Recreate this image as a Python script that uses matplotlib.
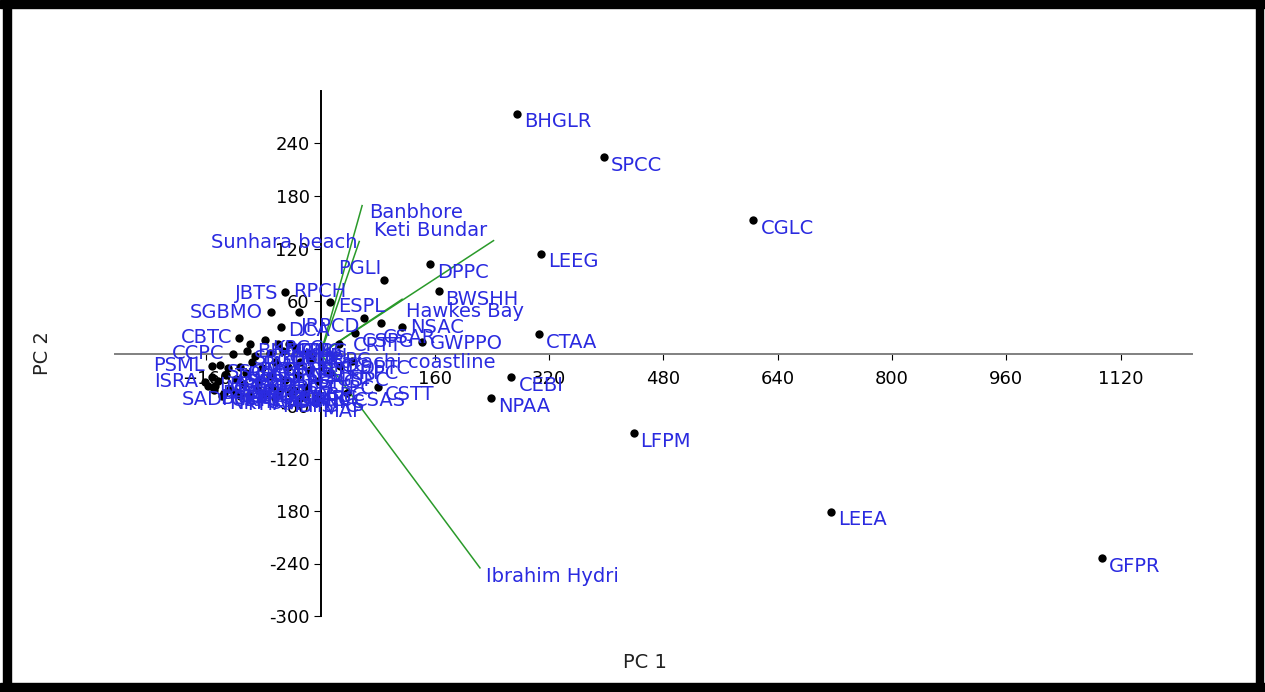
import matplotlib.pyplot as plt
from matplotlib.patches import Rectangle

# scores (PC 1, PC 2)
names = ["BHGLR", "SPCC", "CGLC", "LEEG", "DPPC", "BWSHH", "PGLI", "ESPL",
         "JBTS", "SGBMO", "RPCH", "DCA", "JRPCD", "CSAR", "NSAC", "GWPPO",
         "CTAA", "CRTT", "CBTC", "CCPC", "PSML", "ISRA", "CSTT", "CSAS",
         "CEBI", "NPAA", "LFPM", "LEEA", "GFPR"]
pc1 = [275, 396, 606, 309, 153, 165, 89, 13,
       -50, -69, -30, -55, 60, 85, 114, 142,
       306, 25, -114, -123, -152, -162, 80, 37,
       267, 239, 438, 715, 1094]
pc2 = [274, 224, 152, 114, 102, 71, 84, 59,
       70, 47, 48, 30, 41, 35, 30, 13,
       22, 11, 18, 0, -14, -32, -38, -45,
       -27, -51, -91, -181, -234]

# crowded group near the origin (labels unreadable in the source)
crowd_names = ["BHGRM", "KPCC", "MGLC", "CPBC", "SBTC", "PMTC", "GDPC", "HBCC",
               "KHPL", "MRPC", "SSGM", "THPC", "BSCC", "PKTC", "GBPC", "ORPC",
               "JMPC", "NBTC", "KTCC", "LBPC", "MMPC", "ASPC", "SBCP", "KBTL",
               "HMPC", "DHPC", "GTPC", "RBPC", "CMTL", "PBGL", "BLPC", "SPBM",
               "NCPC", "DSPC", "KMPC", "QBPC", "TTPC", "PHAA", "MAP", "SADP",
               "GSPC", "KRPC", "DPTC", "HSPC", "MBPC", "NKPC", "CSPG",
               "BBPC", "GKTC", "SMPC", "HKPC", "TBGL", "KSPC", "OMPC", "PNPC"]
crowd_pc1 = [-99, -78, -60, -44, -103, -92, -71, -53, -34, -18, -141, -130, -113, -96,
             -82, -64, -46, -29, -12, -152, -144, -132, -118, -104, -88, -71, -50, -32,
             -15, -148, -127, -107, -88, -68, -43, -22, -4, -113, -6, -158,
             13, 27, 44, -29, -64, -138, 48,
             -150, -135, -118, -100, -80, -58, -38, -20]
crowd_pc2 = [11, 15, 11, 11, 3, -3, 1, 3, 6, 1, -13, -17, -15, -10,
             -17, -10, -15, -10, -6, -27, -31, -24, -29, -22, -31, -26, -30, -24,
             -19, -37, -40, -35, -42, -38, -45, -38, -31, -49, -51, -37,
             -22, -14, -8, -51, -51, -48, 23,
             -42, -45, -44, -47, -46, -44, -42, -47]

# loadings
load_names = ["Banbhore", "Sunhara beach", "Keti Bundar", "Hawkes Bay",
              "Ibrahim Hydri", "Karachi coastline"]
load_pc1 = [58, 54, 242, 114, 223, 25]
load_pc2 = [169, 128, 129, 62, -245, -6]

xticks = [-160, 160, 320, 480, 640, 800, 960, 1120]
yticks = [240, 180, 120, 60, -60, -120, -180, -240, -300]
ytick_labels = ["240", "180", "120", "60", "-60", "-120", "180", "-240", "-300"]

BLUE = "#2a2ae0"
GREEN = "#2a9a2a"

# label offsets in pixels (dx, dy, ha); default is right and below the dot
label_pos = {
    "PGLI": (-46, 11, "left"), "ESPL": (8, -5, "left"), "JBTS": (-7, -1, "right"),
    "SGBMO": (-9, 0, "right"), "RPCH": (-6, 20, "left"), "DCA": (7, -3, "left"),
    "JRPCD": (-63, -9, "left"), "CSAR": (1, -15, "left"), "NSAC": (8, 0, "left"),
    "GWPPO": (8, -1, "left"), "CRTT": (14, -2, "left"), "CBTC": (-7, 0, "right"),
    "CCPC": (-8, 0, "right"), "PSML": (-7, 0, "right"), "ISRA": (-7, 0, "right"),
    "SADP": (-26, -14, "left"), "MAP": (6, -13, "left"),
}
load_label_pos = {
    "Banbhore": (7, -7, "left"), "Sunhara beach": (-2, -1, "right"),
    "Keti Bundar": (-120, 10, "left"), "Hawkes Bay": (4, -12, "left"),
    "Ibrahim Hydri": (6, -9, "left"), "Karachi coastline": (157, -4, "right"),
}

fig = plt.figure(figsize=(12.65, 6.92), dpi=100)
ax = fig.add_axes([115 / 1265, 1 - 616 / 692, (1192 - 115) / 1265, (616 - 91) / 692])
ax.set_xlim(-288, 1220)
ax.set_ylim(-300, 300)

for s in ["top", "right"]:
    ax.spines[s].set_visible(False)
ax.spines["left"].set_position(("data", 0))
ax.spines["bottom"].set_position(("data", 0))
ax.spines["left"].set_linewidth(1.4)
ax.spines["bottom"].set_color("#808080")
ax.spines["bottom"].set_linewidth(1.4)
ax.set_xticks(xticks)
ax.set_yticks(yticks)
ax.set_yticklabels(ytick_labels)
ax.tick_params(axis="x", direction="out", length=4, pad=8, labelsize=13, colors="black")
ax.tick_params(axis="y", direction="out", length=5, pad=3, labelsize=13)
ax.patch.set_visible(False)

# loading vectors
for nm, lx, ly in zip(load_names, load_pc1, load_pc2):
    ax.plot([0, lx], [0, ly], color=GREEN, lw=1.1, zorder=2)
    dx, dy, ha = load_label_pos[nm]
    ax.annotate(nm, (lx, ly), xytext=(dx, dy), textcoords="offset pixels",
                ha=ha, va="center", color=BLUE, fontsize=14, zorder=5)

all_names = names + crowd_names
all_x = pc1 + crowd_pc1
all_y = pc2 + crowd_pc2
ax.scatter(all_x, all_y, s=36, color="black", zorder=3, linewidths=0)
for nm, x, y in zip(all_names, all_x, all_y):
    dx, dy, ha = label_pos.get(nm, (7, -8, "left"))
    ax.annotate(nm, (x, y), xytext=(dx, dy), textcoords="offset pixels",
                ha=ha, va="center", color=BLUE, fontsize=14, zorder=5)

fig.text(645 / 1265, 1 - 662 / 692, "PC 1", ha="center", va="center",
         fontsize=14, color="#222222", family=["Liberation Sans Narrow", "DejaVu Sans"])
fig.text(42 / 1265, 1 - 353 / 692, "PC 2", ha="center", va="center", rotation=90,
         fontsize=14, color="#222222", family=["Liberation Sans Narrow", "DejaVu Sans"])

# black frame round the picture
W, H = 1265, 692
for (x0, y0, w, h) in [(3, 0, 8, H), (0, 0, W, 8), (0, H - 9, W, 9), (1256, 0, 7, H)]:
    fig.patches.append(Rectangle((x0 / W, 1 - (y0 + h) / H), w / W, h / H,
                                 transform=fig.transFigure, color="black", zorder=10))

fig.savefig("out.png", dpi=100)
